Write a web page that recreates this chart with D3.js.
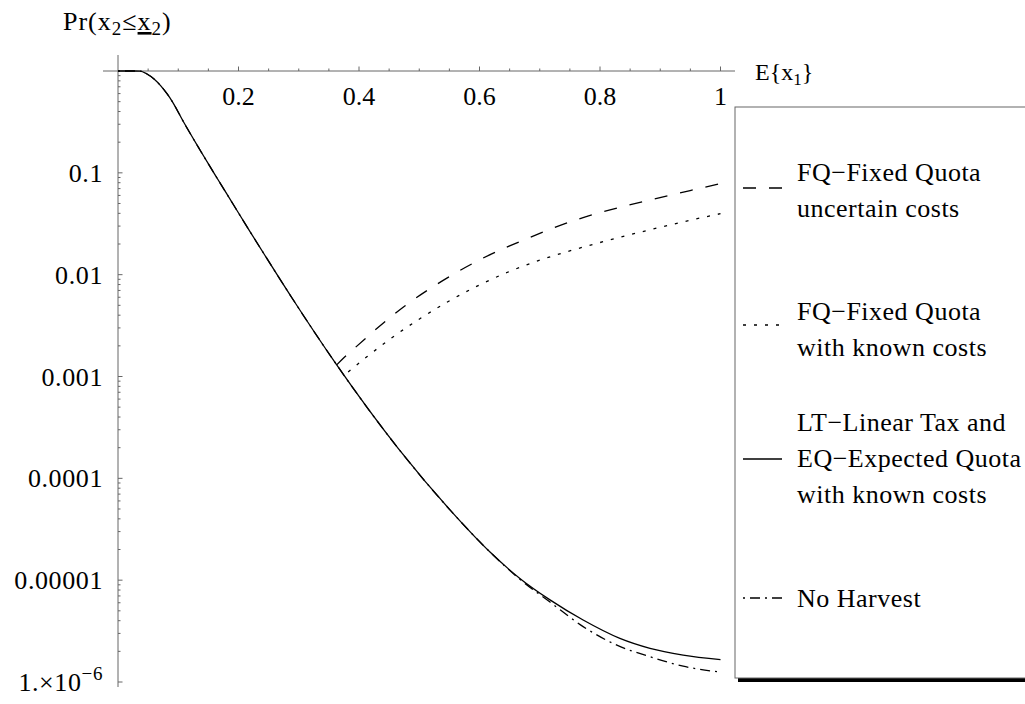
<!DOCTYPE html>
<html>
<head>
<meta charset="utf-8">
<script src="https://cdn.jsdelivr.net/npm/d3@7"></script>
<style>
	body { margin: 0; background: #fff; }
	svg text { font-family: "Liberation Serif", "Times New Roman", serif; fill: #000; }
</style>
</head>
<body>
<svg id="chart" width="1025" height="704"></svg>
<script>
// E{x1} on x, Pr on a log scale
var ltX = [0, 0.0249, 0.0365, 0.0481, 0.0598, 0.0714, 0.0813, 0.0896, 0.1084, 0.1361, 0.1638, 0.1914, 0.2191, 0.244, 0.2883, 0.363, 0.465, 0.551, 0.617, 0.667, 0.717, 0.772, 0.833, 0.883, 0.938, 1.0];
var ltP = [1, 1, 0.998, 0.934, 0.835, 0.711, 0.598, 0.507, 0.319, 0.1676, 0.0900, 0.0489, 0.0265, 0.01543, 0.00597, 0.0013, 1.97e-4, 4.9e-5, 1.9e-5, 1.04e-5, 6.4e-6, 4.06e-6, 2.68e-6, 2.14e-6, 1.84e-6, 1.66e-6];

var nhX = [0, 0.0249, 0.0365, 0.0481, 0.0598, 0.0714, 0.0813, 0.0896, 0.1084, 0.1361, 0.1638, 0.1914, 0.2191, 0.244, 0.2883, 0.363, 0.465, 0.551, 0.617, 0.667, 0.717, 0.772, 0.828, 0.883, 0.938, 1.0];
var nhP = [1, 1, 0.998, 0.934, 0.835, 0.711, 0.598, 0.507, 0.319, 0.1676, 0.0900, 0.0489, 0.0265, 0.01543, 0.00597, 0.0013, 1.97e-4, 4.9e-5, 1.9e-5, 1.02e-5, 6.1e-6, 3.5e-6, 2.3e-6, 1.77e-6, 1.43e-6, 1.25e-6];

var fqUncX = [0.363, 0.374, 0.3905, 0.44, 0.476, 0.55, 0.6, 0.65, 0.7, 0.734, 0.8, 0.844, 0.886, 0.927, 0.971, 1.0];
var fqUncP = [1.30e-3, 1.51e-3, 1.85e-3, 3.33e-3, 4.92e-3, 0.00957, 0.01397, 0.01914, 0.0254, 0.0305, 0.0407, 0.0476, 0.0547, 0.0624, 0.0716, 0.0785];

var fqKnownX = [0.382, 0.413, 0.451, 0.501, 0.546, 0.6, 0.65, 0.7, 0.745, 0.795, 0.85, 0.9, 0.955, 1.0];
var fqKnownP = [1.11e-3, 1.56e-3, 2.32e-3, 3.69e-3, 5.36e-3, 7.93e-3, 0.01076, 0.01387, 0.0168, 0.0203, 0.0247, 0.0292, 0.0348, 0.0397];

var xMajor = [0.2, 0.4, 0.6, 0.8, 1];
var xMajorLabels = ['0.2', '0.4', '0.6', '0.8', '1'];
var yMajor = [0.1, 0.01, 0.001, 0.0001, 0.00001, 0.000001];
var yMajorLabels = ['0.1', '0.01', '0.001', '0.0001', '0.00001', '1.\u00d710'];

var legendLabels = [
	['FQ\u2212Fixed Quota', 'uncertain costs'],
	['FQ\u2212Fixed Quota', 'with known costs'],
	['LT\u2212Linear Tax and', 'EQ\u2212Expected Quota', 'with known costs'],
	['No Harvest']
];

var svg = d3.select('#chart');

var x = d3.scaleLinear().domain([0, 1]).range([118, 720.5]);
var y = d3.scaleLog().domain([1, 1e-6]).range([71, 682]);

var axisColor = '#666';
var fontSize = 26;
var subSize = 19;

// minor ticks
var xMinor = d3.range(1, 21).map(function (i) { return i * 0.05; })
	.filter(function (v) { return xMajor.indexOf(+v.toFixed(2)) < 0; });
var yMinor = [];
for (var e = 0; e > -6; e--) {
	for (var m = 2; m <= 9; m++) yMinor.push(m * Math.pow(10, e - 1));
}

var gx = svg.append('g').attr('class', 'x-axis');
gx.append('line')
	.attr('x1', 103).attr('x2', 735)
	.attr('y1', y(1)).attr('y2', y(1))
	.attr('stroke', axisColor).attr('stroke-width', 1);
gx.selectAll('line.minor')
	.data(xMinor).enter().append('line')
	.attr('class', 'minor')
	.attr('x1', function (d) { return x(d); }).attr('x2', function (d) { return x(d); })
	.attr('y1', y(1)).attr('y2', y(1) - 2.5)
	.attr('stroke', axisColor);
gx.selectAll('line.major')
	.data(xMajor).enter().append('line')
	.attr('class', 'major')
	.attr('x1', function (d) { return x(d); }).attr('x2', function (d) { return x(d); })
	.attr('y1', y(1)).attr('y2', y(1) - 4.5)
	.attr('stroke', axisColor);
gx.selectAll('text')
	.data(xMajor).enter().append('text')
	.attr('x', function (d) { return x(d); })
	.attr('y', 105)
	.attr('text-anchor', 'middle')
	.attr('font-size', fontSize)
	.text(function (d, i) { return xMajorLabels[i]; });

var gy = svg.append('g').attr('class', 'y-axis');
gy.append('line')
	.attr('x1', x(0)).attr('x2', x(0))
	.attr('y1', 55).attr('y2', 687)
	.attr('stroke', axisColor).attr('stroke-width', 1);
gy.selectAll('line.minor')
	.data(yMinor).enter().append('line')
	.attr('class', 'minor')
	.attr('x1', x(0)).attr('x2', x(0) + 2.5)
	.attr('y1', function (d) { return y(d); }).attr('y2', function (d) { return y(d); })
	.attr('stroke', axisColor);
gy.selectAll('line.major')
	.data(yMajor).enter().append('line')
	.attr('class', 'major')
	.attr('x1', x(0)).attr('x2', x(0) + 4.5)
	.attr('y1', function (d) { return y(d); }).attr('y2', function (d) { return y(d); })
	.attr('stroke', axisColor);
var yLab = gy.selectAll('text')
	.data(yMajor).enter().append('text')
	.attr('x', 103)
	.attr('y', function (d) { return y(d) + 9; })
	.attr('text-anchor', 'end')
	.attr('font-size', fontSize)
	.attr('letter-spacing', 0.6);
yLab.append('tspan').text(function (d, i) { return yMajorLabels[i]; });
yLab.filter(function (d) { return d < 1e-5; })
	.append('tspan')
	.attr('dy', -11)
	.attr('font-size', subSize)
	.text('\u22126');

// axis titles
var ttl = svg.append('text')
	.attr('x', 63).attr('y', 30)
	.attr('font-size', fontSize)
	.attr('letter-spacing', 1);
ttl.append('tspan').text('Pr(x');
ttl.append('tspan').attr('dy', 5).attr('font-size', subSize).text('2');
ttl.append('tspan').attr('dy', -5).text('\u2264');
ttl.append('tspan').style('text-decoration', 'underline').text('x');
ttl.append('tspan').attr('dy', 5).attr('font-size', subSize).text('2');
ttl.append('tspan').attr('dy', -5).text(')');

var xt = svg.append('text')
	.attr('x', 755).attr('y', 80)
	.attr('font-size', 24);
xt.append('tspan').text('E{x');
xt.append('tspan').attr('dy', 5).attr('font-size', 17).text('1');
xt.append('tspan').attr('dy', -5).text('}');

// curves
var line = d3.line()
	.x(function (d) { return x(d[0]); })
	.y(function (d) { return y(d[1]); })
	.curve(d3.curveMonotoneX);

var series = [
	{ xs: nhX, ps: nhP, dash: '2,5,10,5' },
	{ xs: ltX, ps: ltP, dash: null },
	{ xs: fqUncX, ps: fqUncP, dash: '13,13' },
	{ xs: fqKnownX, ps: fqKnownP, dash: '3,8' }
];

svg.append('g').attr('class', 'curves')
	.selectAll('path')
	.data(series).enter().append('path')
	.attr('d', function (s) { return line(s.xs.map(function (v, i) { return [v, s.ps[i]]; })); })
	.attr('fill', 'none')
	.attr('stroke', '#000')
	.attr('stroke-width', 1.3)
	.attr('stroke-dasharray', function (s) { return s.dash; });

// legend
var lg = svg.append('g').attr('class', 'legend');
lg.append('line')
	.attr('x1', 738).attr('x2', 1025)
	.attr('y1', 680).attr('y2', 680)
	.attr('stroke', '#000').attr('stroke-width', 4);
lg.append('rect')
	.attr('x', 735).attr('y', 107)
	.attr('width', 400).attr('height', 571)
	.attr('fill', '#fff')
	.attr('stroke', axisColor).attr('stroke-width', 1);

var legendItems = [
	{ dash: '13,13', sampleY: 188, lines: legendLabels[0], baseY: 181 },
	{ dash: '3,8', sampleY: 325, lines: legendLabels[1], baseY: 320 },
	{ dash: null, sampleY: 459, lines: legendLabels[2], baseY: 431 },
	{ dash: '2,5,10,5', sampleY: 598, lines: legendLabels[3], baseY: 607 }
];

var li = lg.selectAll('g.item')
	.data(legendItems).enter().append('g')
	.attr('class', 'item');
li.append('line')
	.attr('x1', 743).attr('x2', 782)
	.attr('y1', function (d) { return d.sampleY; })
	.attr('y2', function (d) { return d.sampleY; })
	.attr('stroke', '#000').attr('stroke-width', 1.3)
	.attr('stroke-dasharray', function (d) { return d.dash; });
li.each(function (d) {
	var g = d3.select(this);
	d.lines.forEach(function (t, k) {
		g.append('text')
			.attr('x', 797)
			.attr('y', d.baseY + k * 36)
			.attr('font-size', fontSize)
			.attr('letter-spacing', 0.5)
			.text(t);
	});
});
</script>
</body>
</html>
